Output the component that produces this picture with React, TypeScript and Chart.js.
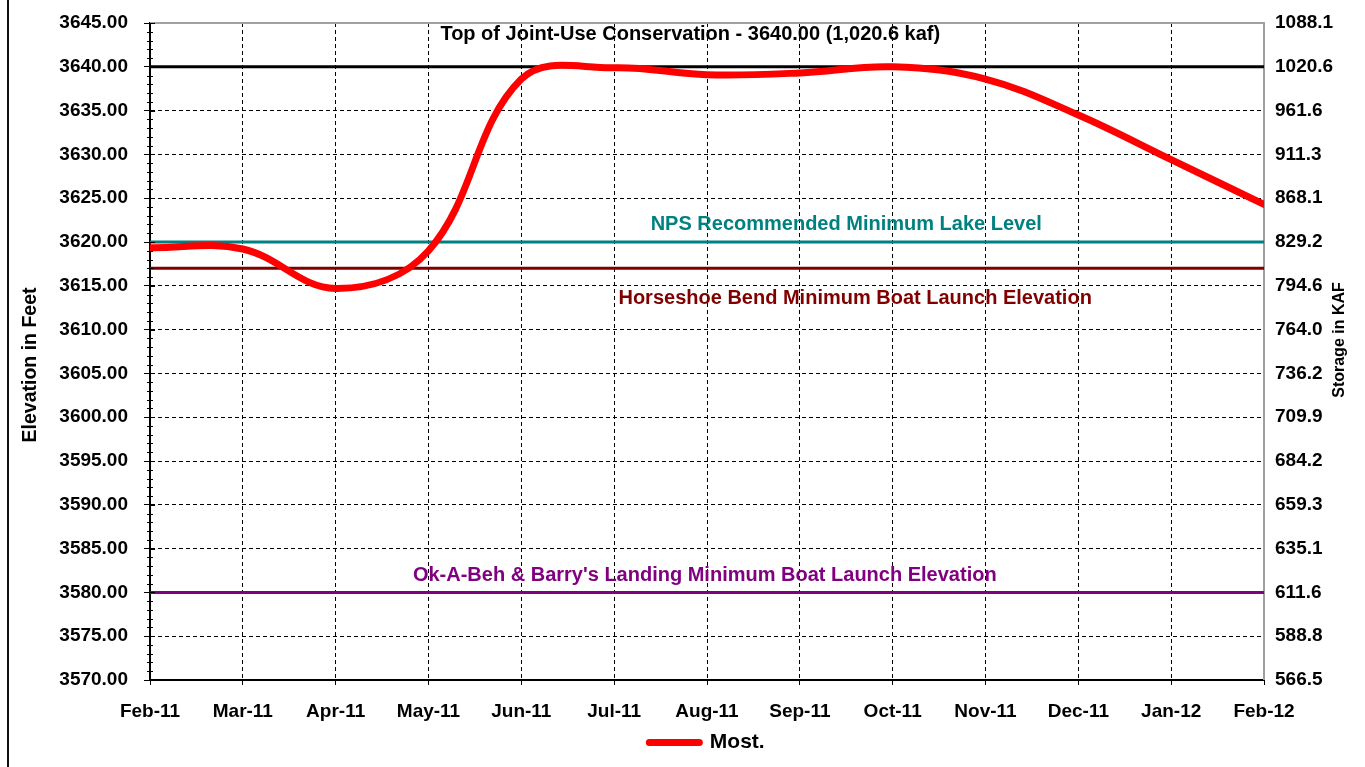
import React, { useEffect, useRef } from 'react';
import { Chart, registerables } from 'chart.js';

Chart.register(...registerables);

// ---------- data ----------
const months = ['Feb-11', 'Mar-11', 'Apr-11', 'May-11', 'Jun-11', 'Jul-11', 'Aug-11', 'Sep-11', 'Oct-11', 'Nov-11', 'Dec-11', 'Jan-12', 'Feb-12'];
const mostElevation = [3619.35, 3619.2, 3614.7, 3619.0, 3638.6, 3639.9, 3639.1, 3639.3, 3640.0, 3638.6, 3634.5, 3629.4, 3624.3];

const referenceNames = ['Top of Joint-Use Conservation', 'NPS Recommended Minimum Lake Level', 'Horseshoe Bend Minimum Boat Launch Elevation', "Ok-A-Beh & Barry's Landing Minimum Boat Launch Elevation"];
const referenceLevels = [3640, 3620, 3617, 3580];
const referenceColors = ['#000000', '#008080', '#800000', '#800080'];

const elevationMin = 3570;
const elevationMax = 3645;
const elevationStep = 5;
// storage labels, bottom (3570) to top (3645)
const storageLabels = ['566.5', '588.8', '611.6', '635.1', '659.3', '684.2', '709.9', '736.2', '764.0', '794.6', '829.2', '868.1', '911.3', '961.6', '1020.6', '1088.1'];

const annotationTexts = ['Top of Joint-Use Conservation - 3640.00 (1,020.6 kaf)', 'NPS Recommended Minimum Lake Level', 'Horseshoe Bend Minimum Boat Launch Elevation', "Ok-A-Beh & Barry's Landing Minimum Boat Launch Elevation"];
const annotationValues = [3643.69, 3622.05, 3613.55, 3581.93];

// ---------- style ----------
const FONT = "'Liberation Sans', Arial, Helvetica, sans-serif";
const annotationXFrac = [0.485, 0.625, 0.633, 0.498];

const decorPlugin = {
  id: 'decor',
  beforeDatasetsDraw(chart: any) {
    const { ctx, chartArea } = chart;
    ctx.save();
    ctx.strokeStyle = '#a0a0a0';
    ctx.lineWidth = 2;
    ctx.beginPath();
    ctx.moveTo(chartArea.left, chartArea.top);
    ctx.lineTo(chartArea.right, chartArea.top);
    ctx.lineTo(chartArea.right, chartArea.bottom);
    ctx.stroke();
    ctx.restore();
  },
  afterDatasetsDraw(chart: any) {
    const { ctx, chartArea, scales } = chart;
    const y = scales.y;
    ctx.save();
    // minor / inner tick marks on the left axis
    ctx.strokeStyle = '#000';
    ctx.lineWidth = 1;
    for (let v = elevationMin; v <= elevationMax; v += 1) {
      const py = Math.round(y.getPixelForValue(v)) + 0.5;
      const major = (v - elevationMin) % elevationStep === 0;
      ctx.beginPath();
      ctx.moveTo(chartArea.left - (major ? 0 : 3), py);
      ctx.lineTo(chartArea.left + (major ? 5 : 3), py);
      ctx.stroke();
    }
    // reference line labels
    ctx.font = `bold 20px ${FONT}`;
    ctx.textAlign = 'center';
    ctx.textBaseline = 'middle';
    annotationTexts.forEach((t, i) => {
      ctx.fillStyle = referenceColors[i];
      const x = chartArea.left + annotationXFrac[i] * (chartArea.right - chartArea.left);
      ctx.fillText(t, x, y.getPixelForValue(annotationValues[i]));
    });
    // axis titles
    ctx.fillStyle = '#000';
    ctx.save();
    ctx.translate(31, 365);
    ctx.rotate(-Math.PI / 2);
    ctx.font = `bold 19.5px ${FONT}`;
    ctx.fillText('Elevation in Feet', 0, 0);
    ctx.restore();
    ctx.save();
    ctx.translate(1340, 340);
    ctx.rotate(-Math.PI / 2);
    ctx.font = `bold 16px ${FONT}`;
    ctx.fillText('Storage in KAF', 0, 0);
    ctx.restore();
    ctx.restore();
  },
  afterDraw(chart: any) {
    const { ctx } = chart;
    ctx.save();
    ctx.fillStyle = '#111';
    ctx.fillRect(7, 0, 2, chart.height);
    ctx.restore();
  },
};

export default function App() {
  const canvasRef = useRef<HTMLCanvasElement | null>(null);

  useEffect(() => {
    if (!canvasRef.current) return;
    const tickFont = { family: FONT, size: 19, weight: 'bold' as const };

    const datasets: any[] = [
      {
        label: 'Most.',
        data: mostElevation,
        borderColor: '#ff0000',
        backgroundColor: '#ff0000',
        borderWidth: 7,
        tension: 0.38,
        pointRadius: 0,
        pointHoverRadius: 0,
        pointStyle: 'line',
        pointBorderColor: '#ff0000',
        pointBorderWidth: 7,
        borderCapStyle: 'round',
        fill: false,
        clip: 0,
      },
      ...referenceLevels.map((lvl, i) => ({
        label: referenceNames[i],
        data: months.map(() => lvl),
        borderColor: referenceColors[i],
        backgroundColor: referenceColors[i],
        borderWidth: 3,
        pointRadius: 0,
        pointHoverRadius: 0,
        tension: 0,
        fill: false,
      })),
    ];

    const chart = new Chart(canvasRef.current, {
      type: 'line',
      data: { labels: months, datasets },
      options: {
        responsive: false,
        animation: false,
        layout: { padding: { top: 23, bottom: 4, left: 0, right: 0 } },
        plugins: {
          tooltip: { enabled: false },
          title: { display: false },
          legend: {
            display: true,
            position: 'bottom',
            fullSize: false,
            labels: {
              usePointStyle: true,
              pointStyleWidth: 50,
              padding: 4,
              color: '#000',
              font: { family: FONT, size: 21, weight: 'bold' },
              generateLabels: (c: any) =>
                Chart.defaults.plugins.legend.labels
                  .generateLabels(c)
                  .filter((it: any) => it.datasetIndex === 0)
                  .map((it: any) => ({ ...it, lineCap: 'round', lineWidth: 7, strokeStyle: '#ff0000', fontColor: '#000' })),
            },
          },
        },
        scales: {
          x: {
            type: 'category',
            offset: false,
            grid: { color: '#000', lineWidth: 1, tickLength: 5, tickColor: '#000', tickWidth: 1 },
            border: { display: true, color: '#000', width: 2, dash: [4, 3] },
            ticks: { font: tickFont, color: '#000', padding: 15, maxRotation: 0, autoSkip: false },
            afterFit: (s: any) => { s.height = 48; },
          },
          y: {
            position: 'left',
            min: elevationMin,
            max: elevationMax,
            ticks: {
              stepSize: elevationStep,
              font: tickFont,
              color: '#000',
              padding: 16,
              callback: (v: any) => Number(v).toFixed(2),
            },
            grid: { color: '#000', lineWidth: 1, tickLength: 6, tickColor: '#000', tickWidth: 1 },
            border: { display: true, color: '#000', width: 2, dash: [4, 3] },
            afterFit: (s: any) => { s.width = 150; s.paddingTop = 0; s.paddingBottom = 0; },
          },
          y2: {
            position: 'right',
            min: elevationMin,
            max: elevationMax,
            ticks: {
              stepSize: elevationStep,
              font: tickFont,
              color: '#000',
              padding: 11,
              callback: (v: any) => storageLabels[Math.round((Number(v) - elevationMin) / elevationStep)],
            },
            grid: { display: false, drawTicks: false },
            border: { display: false },
            afterFit: (s: any) => { s.width = 101; s.paddingTop = 0; s.paddingBottom = 0; },
          },
        },
      } as any,
      plugins: [decorPlugin],
    });
    return () => chart.destroy();
  }, []);

  return (
    <div style={{ position: 'absolute', left: 0, top: 0, width: 1365, height: 767, background: '#fff' }}>
      <canvas ref={canvasRef} width={1365} height={767} style={{ display: 'block' }} />
    </div>
  );
}
